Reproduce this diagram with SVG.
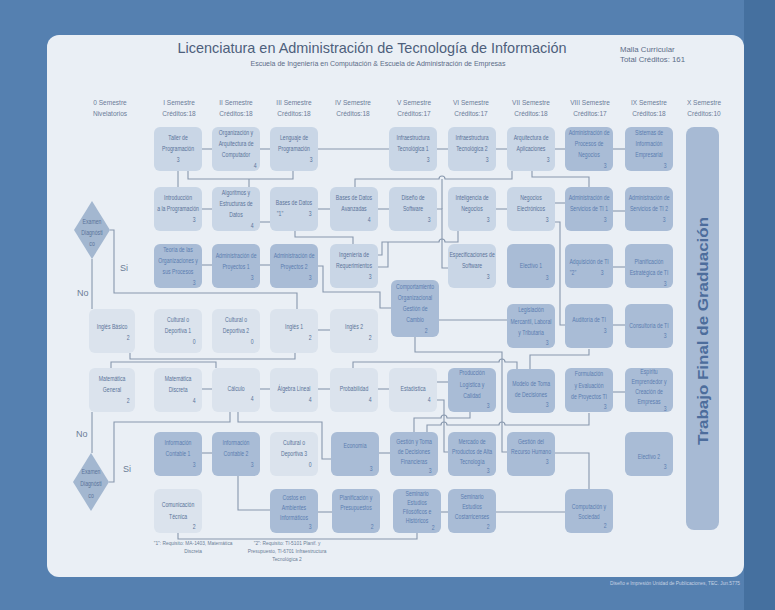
<svg xmlns="http://www.w3.org/2000/svg" width="775" height="610" viewBox="0 0 775 610">
<defs>
<style>
.bg{fill:#5580b0}
.panel{fill:#eaeff5}
rect.cs{fill:#c9d6e6}
rect.gen{fill:#dbe3ed}
rect.adm{fill:#a9bcd6}
.t{font-family:"Liberation Sans",Arial,sans-serif;font-size:6.6px;fill:#5a7399;text-anchor:middle;dominant-baseline:central;transform-box:fill-box;transform-origin:center;transform:scaleX(0.78)}
.a .t{fill:#5b7db0}
.c{text-anchor:end}
.hd{font-family:"Liberation Sans",Arial,sans-serif;font-size:8px;fill:#6a7d99;text-anchor:middle;transform-box:fill-box;transform-origin:center;transform:scaleX(0.82)}
.lbl{font-family:"Liberation Sans",Arial,sans-serif;font-size:9px;fill:#6a7d96}
.fn{font-family:"Liberation Sans",Arial,sans-serif;font-size:6.2px;fill:#6a7d96;text-anchor:middle;transform-box:fill-box;transform-origin:center;transform:scaleX(0.78)}
#connectors path{fill:none;stroke:#8797ad;stroke-width:1.1}
</style>
</defs>
<rect class="bg" x="0" y="0" width="775" height="610"/>
<rect x="744" y="0" width="31" height="610" fill="#45709f"/>
<rect class="panel" x="47" y="35" width="697" height="542" rx="12"/>

<g id="header">
<text x="372" y="53" font-family="Liberation Sans, Arial, sans-serif" font-size="14.5" fill="#4e5f7c" text-anchor="middle" textLength="389" lengthAdjust="spacingAndGlyphs">Licenciatura en Administración de Tecnología de Información</text>
<text x="378" y="66" font-family="Liberation Sans, Arial, sans-serif" font-size="7.5" fill="#5c6d88" text-anchor="middle" textLength="255" lengthAdjust="spacingAndGlyphs">Escuela de Ingeniería en Computación &amp; Escuela de Administración de Empresas</text>
<text x="620" y="52" font-family="Liberation Sans, Arial, sans-serif" font-size="7.8" fill="#5c6d88">Malla Curricular</text>
<text x="620" y="62" font-family="Liberation Sans, Arial, sans-serif" font-size="7.8" fill="#5c6d88">Total Créditos: 161</text>
</g>

<g id="semesters">
<text class="hd" x="110" y="105">0 Semestre</text><text class="hd" x="110" y="116">Nivelatorios</text>
<text class="hd" x="179" y="105">I Semestre</text><text class="hd" x="179" y="116">Créditos:18</text>
<text class="hd" x="236" y="105">II Semestre</text><text class="hd" x="236" y="116">Créditos:18</text>
<text class="hd" x="294" y="105">III Semestre</text><text class="hd" x="294" y="116">Créditos:18</text>
<text class="hd" x="353" y="105">IV Semestre</text><text class="hd" x="353" y="116">Créditos:18</text>
<text class="hd" x="414" y="105">V Semestre</text><text class="hd" x="414" y="116">Créditos:17</text>
<text class="hd" x="471" y="105">VI Semestre</text><text class="hd" x="471" y="116">Créditos:17</text>
<text class="hd" x="531" y="105">VII Semestre</text><text class="hd" x="531" y="116">Créditos:18</text>
<text class="hd" x="590" y="105">VIII Semestre</text><text class="hd" x="590" y="116">Créditos:17</text>
<text class="hd" x="649" y="105">IX Semestre</text><text class="hd" x="649" y="116">Créditos:18</text>
<text class="hd" x="704" y="105">X Semestre</text><text class="hd" x="704" y="116">Créditos:10</text>
</g>

<g id="connectors">
<path d="M202,149 H212"/>
<path d="M260,149 H270"/>
<path d="M318,149 H389"/>
<path d="M437,149 H448"/>
<path d="M496,149 H507"/>
<path d="M555,149 H565"/>
<path d="M613,149 H625"/>
<path d="M178,171 V187"/>
<path d="M188,171 V179 H293 V171"/>
<path d="M249,179 V187"/>
<path d="M202,209 H212"/>
<path d="M260,222 H270"/>
<path d="M318,209 H330"/>
<path d="M378,209 H389"/>
<path d="M295,231 V237 H353 V244"/>
<path d="M355,187 V179 H439 a3,3 0 0 1 6,0 H512 V171"/>
<path d="M437,209 H442 V268 H448"/>
<path d="M442,179 V209"/>
<path d="M377,255 H382 V242 H439 a3,3 0 0 1 6,0 H458 V231"/>
<path d="M377,267 H388 V242"/>
<path d="M496,209 H507"/>
<path d="M532,171 V177 H589 V187"/>
<path d="M555,203 H565"/>
<path d="M613,211 H625"/>
<path d="M555,222 H560 V325 H565"/>
<path d="M202,265 H212"/>
<path d="M260,265 H270"/>
<path d="M318,266 H323 V292 H380 V308 H391"/>
<path d="M613,267 H625"/>
<path d="M439,320 H507"/>
<path d="M613,325 H625"/>
<path d="M110,230 H114 V293 H297 V309"/>
<path d="M92,259 V309"/>
<path d="M130,353 V359 H295 V353"/>
<path d="M318,330 H330"/>
<path d="M111,368 V362 H216 V368"/>
<path d="M202,389 H212"/>
<path d="M260,389 H270"/>
<path d="M318,389 H330"/>
<path d="M378,389 H389"/>
<path d="M437,382 H448"/>
<path d="M437,400 H444 V452 H448"/>
<path d="M353,368 V362 H499 a3,3 0 0 1 6,0 H517 V369"/>
<path d="M415,337 V352 H502 V452 H507"/>
<path d="M589,349 V355 H530 V369"/>
<path d="M613,392 H625"/>
<path d="M470,412 V418 H447 a3,3 0 0 0 -6,0 H414 V432"/>
<path d="M589,413 V425 H505 a3,3 0 0 0 -6,0 H447 a3,3 0 0 0 -6,0 H427 V432"/>
<path d="M109,482 H114 V422 H230 V412"/>
<path d="M92,453 V412"/>
<path d="M238,412 V422 H322 V459 H331"/>
<path d="M202,453 H212"/>
<path d="M238,476 V510 H270"/>
<path d="M379,453 H390"/>
<path d="M555,453 H589 V489"/>
<path d="M318,512 H332"/>
<path d="M441,512 H448"/>
<path d="M496,512 H565"/>
<path d="M178,533 V539 H417 V533"/>
</g>

<g id="diamond1"><polygon points="92,201 110,230 92,259 74,230" fill="#a3b7d0"/>
<text class="t" x="92" y="222">Examen</text><text class="t" x="92" y="233">Diagnósti</text><text class="t" x="92" y="244">co</text></g>
<g id="diamond2"><polygon points="91,453 109,482 91,511 73,482" fill="#a3b7d0"/>
<text class="t" x="91" y="472">Examen</text><text class="t" x="91" y="484">Diagnósti</text><text class="t" x="91" y="496">co</text></g>
<g id="labels">
<text class="lbl" x="120" y="271">Si</text>
<text class="lbl" x="77" y="296">No</text>
<text class="lbl" x="76" y="437">No</text>
<text class="lbl" x="123" y="472">Si</text>
</g>

<g id="taller"><rect class="cs" x="154" y="127" width="48" height="44" rx="6"/><text class="t" x="178" y="138">Taller de</text><text class="t" x="178" y="149">Programación</text><text class="t" x="178" y="160">3</text></g>
<g id="org"><rect class="cs" x="212" y="127" width="48" height="44" rx="6"/><text class="t" x="236" y="133">Organización y</text><text class="t" x="236" y="144">Arquitectura de</text><text class="t" x="236" y="155">Computador</text><text class="t c" x="257" y="166">4</text></g>
<g id="lenguaje"><rect class="cs" x="270" y="127" width="48" height="44" rx="6"/><text class="t" x="294" y="138">Lenguaje de</text><text class="t" x="294" y="149">Programación</text><text class="t c" x="313" y="160">3</text></g>
<g id="infra1"><rect class="cs" x="389" y="127" width="48" height="44" rx="6"/><text class="t" x="413" y="138">Infraestructura</text><text class="t" x="413" y="149">Tecnológica 1</text><text class="t c" x="430" y="160">3</text></g>
<g id="infra2"><rect class="cs" x="448" y="127" width="48" height="44" rx="6"/><text class="t" x="472" y="138">Infraestructura</text><text class="t" x="472" y="149">Tecnológica 2</text><text class="t c" x="489" y="160">3</text></g>
<g id="arq"><rect class="cs" x="507" y="127" width="48" height="44" rx="6"/><text class="t" x="531" y="138">Arquitectura de</text><text class="t" x="531" y="149">Aplicaciones</text><text class="t c" x="550" y="160">3</text></g>
<g id="admproc" class="a"><rect class="adm" x="565" y="127" width="48" height="44" rx="6"/><text class="t" x="589" y="133">Administración de</text><text class="t" x="589" y="144">Procesos de</text><text class="t" x="589" y="155">Negocios</text><text class="t c" x="607" y="166">3</text></g>
<g id="sie" class="a"><rect class="adm" x="625" y="127" width="48" height="44" rx="6"/><text class="t" x="649" y="133">Sistemas de</text><text class="t" x="649" y="144">Información</text><text class="t" x="649" y="155">Empresarial</text><text class="t c" x="667" y="166">3</text></g>

<g id="intro"><rect class="cs" x="154" y="187" width="48" height="44" rx="6"/><text class="t" x="178" y="198">Introducción</text><text class="t" x="178" y="209">a la Programación</text><text class="t c" x="196" y="220">3</text></g>
<g id="algo"><rect class="cs" x="212" y="187" width="48" height="44" rx="6"/><text class="t" x="236" y="193">Algoritmos y</text><text class="t" x="236" y="204">Estructuras de</text><text class="t" x="236" y="215">Datos</text><text class="t c" x="254" y="226">4</text></g>
<g id="bd"><rect class="cs" x="270" y="187" width="48" height="44" rx="6"/><text class="t" x="294" y="203">Bases de Datos</text><text class="t" x="280" y="214">"1"</text><text class="t c" x="312" y="214">3</text></g>
<g id="bda"><rect class="cs" x="330" y="187" width="48" height="44" rx="6"/><text class="t" x="354" y="198">Bases de Datos</text><text class="t" x="354" y="209">Avanzadas</text><text class="t c" x="371" y="220">4</text></g>
<g id="diseno"><rect class="cs" x="389" y="187" width="48" height="44" rx="6"/><text class="t" x="413" y="198">Diseño de</text><text class="t" x="413" y="209">Software</text><text class="t c" x="431" y="220">3</text></g>
<g id="intel"><rect class="cs" x="448" y="187" width="48" height="44" rx="6"/><text class="t" x="472" y="198">Inteligencia de</text><text class="t" x="472" y="209">Negocios</text><text class="t c" x="490" y="220">3</text></g>
<g id="negel"><rect class="cs" x="507" y="187" width="48" height="44" rx="6"/><text class="t" x="531" y="198">Negocios</text><text class="t" x="531" y="209">Electrónicos</text><text class="t c" x="549" y="220">3</text></g>
<g id="ast1" class="a"><rect class="adm" x="565" y="187" width="48" height="44" rx="6"/><text class="t" x="589" y="198">Administración de</text><text class="t" x="589" y="209">Servicios de TI 1</text><text class="t c" x="607" y="220">3</text></g>
<g id="ast2" class="a"><rect class="adm" x="625" y="187" width="48" height="44" rx="6"/><text class="t" x="649" y="198">Administración de</text><text class="t" x="649" y="209">Servicios de TI 2</text><text class="t c" x="666" y="220">3</text></g>

<g id="teoria" class="a"><rect class="adm" x="154" y="244" width="48" height="44" rx="6"/><text class="t" x="178" y="250">Teoría de las</text><text class="t" x="178" y="261">Organizaciones y</text><text class="t" x="178" y="272">sus Procesos</text><text class="t c" x="196" y="283">3</text></g>
<g id="ap1" class="a"><rect class="adm" x="212" y="244" width="48" height="44" rx="6"/><text class="t" x="236" y="256">Administración de</text><text class="t" x="236" y="267">Proyectos 1</text><text class="t c" x="254" y="278">3</text></g>
<g id="ap2" class="a"><rect class="adm" x="270" y="244" width="48" height="44" rx="6"/><text class="t" x="294" y="256">Administración de</text><text class="t" x="294" y="267">Proyectos 2</text><text class="t c" x="312" y="278">3</text></g>
<g id="ingreq"><rect class="cs" x="330" y="244" width="48" height="44" rx="6"/><text class="t" x="354" y="255">Ingeniería de</text><text class="t" x="354" y="266">Requerimientos</text><text class="t c" x="372" y="277">3</text></g>
<g id="espec"><rect class="cs" x="448" y="244" width="48" height="44" rx="6"/><text class="t" x="472" y="255">Especificaciones de</text><text class="t" x="472" y="266">Software</text><text class="t c" x="490" y="277">3</text></g>
<g id="elect1" class="a"><rect class="adm" x="507" y="244" width="48" height="44" rx="6"/><text class="t" x="531" y="266">Electivo 1</text><text class="t c" x="549" y="278">3</text></g>
<g id="adq" class="a"><rect class="adm" x="565" y="244" width="48" height="44" rx="6"/><text class="t" x="589" y="262">Adquisición de TI</text><text class="t" x="573" y="273">"2"</text><text class="t c" x="604" y="273">3</text></g>
<g id="planest" class="a"><rect class="adm" x="625" y="244" width="48" height="44" rx="6"/><text class="t" x="649" y="262">Planificación</text><text class="t" x="649" y="273">Estratégica de TI</text><text class="t c" x="667" y="284">3</text></g>

<g id="comport" class="a"><rect class="adm" x="391" y="280" width="48" height="57" rx="6"/><text class="t" x="415" y="287">Comportamiento</text><text class="t" x="415" y="298">Organizacional</text><text class="t" x="415" y="309">Gestión de</text><text class="t" x="415" y="320">Cambio</text><text class="t c" x="428" y="331">2</text></g>
<g id="legis" class="a"><rect class="adm" x="507" y="304" width="48" height="44" rx="6"/><text class="t" x="531" y="310">Legislación</text><text class="t" x="531" y="321.5">Mercantil, Laboral</text><text class="t" x="531" y="333">y Tributaria</text><text class="t c" x="549" y="343">3</text></g>
<g id="audit" class="a"><rect class="adm" x="565" y="304" width="48" height="44" rx="6"/><text class="t" x="589" y="320">Auditoría de TI</text><text class="t c" x="607" y="331">3</text></g>
<g id="consult" class="a"><rect class="adm" x="625" y="304" width="48" height="44" rx="6"/><text class="t" x="649" y="326">Consultoría de TI</text><text class="t c" x="667" y="336">3</text></g>

<g id="inglesb"><rect class="gen" x="89" y="309" width="46" height="44" rx="6"/><text class="t" x="112" y="327">Inglés Básico</text><text class="t c" x="130" y="338">2</text></g>
<g id="cult1"><rect class="gen" x="154" y="309" width="48" height="44" rx="6"/><text class="t" x="178" y="320">Cultural o</text><text class="t" x="178" y="331">Deportiva 1</text><text class="t c" x="196" y="342">0</text></g>
<g id="cult2"><rect class="gen" x="212" y="309" width="48" height="44" rx="6"/><text class="t" x="236" y="320">Cultural o</text><text class="t" x="236" y="331">Deportiva 2</text><text class="t c" x="254" y="342">0</text></g>
<g id="ingles1"><rect class="gen" x="270" y="309" width="48" height="44" rx="6"/><text class="t" x="294" y="327">Inglés 1</text><text class="t c" x="312" y="338">2</text></g>
<g id="ingles2"><rect class="gen" x="330" y="309" width="48" height="44" rx="6"/><text class="t" x="354" y="327">Inglés 2</text><text class="t c" x="372" y="338">2</text></g>

<g id="matgen"><rect class="gen" x="89" y="368" width="46" height="44" rx="6"/><text class="t" x="112" y="379">Matemática</text><text class="t" x="112" y="390">General</text><text class="t c" x="130" y="401">2</text></g>
<g id="matdis"><rect class="gen" x="154" y="368" width="48" height="44" rx="6"/><text class="t" x="178" y="379">Matemática</text><text class="t" x="178" y="390">Discreta</text><text class="t c" x="196" y="401">4</text></g>
<g id="calculo"><rect class="gen" x="212" y="368" width="48" height="44" rx="6"/><text class="t" x="236" y="389">Cálculo</text><text class="t c" x="254" y="399">4</text></g>
<g id="algebra"><rect class="gen" x="270" y="368" width="48" height="44" rx="6"/><text class="t" x="294" y="389">Álgebra Lineal</text><text class="t c" x="312" y="400">4</text></g>
<g id="prob"><rect class="gen" x="330" y="368" width="48" height="44" rx="6"/><text class="t" x="354" y="389">Probabilidad</text><text class="t c" x="372" y="400">4</text></g>
<g id="estad"><rect class="gen" x="389" y="368" width="48" height="44" rx="6"/><text class="t" x="413" y="389">Estadística</text><text class="t c" x="431" y="400">4</text></g>
<g id="prod" class="a"><rect class="adm" x="448" y="368" width="48" height="44" rx="6"/><text class="t" x="472" y="373">Producción</text><text class="t" x="472" y="385">Logística y</text><text class="t" x="472" y="396">Calidad</text><text class="t c" x="490" y="406">3</text></g>
<g id="modelo" class="a"><rect class="adm" x="507" y="369" width="48" height="44" rx="6"/><text class="t" x="531" y="384">Modelo de Toma</text><text class="t" x="531" y="395">de Decisiones</text><text class="t c" x="549" y="405">3</text></g>
<g id="formul" class="a"><rect class="adm" x="565" y="368" width="48" height="44" rx="6"/><text class="t" x="589" y="374">Formulación</text><text class="t" x="589" y="386">y Evaluación</text><text class="t" x="589" y="397">de Proyectos TI</text><text class="t c" x="607" y="407">3</text></g>
<g id="espiritu" class="a"><rect class="adm" x="625" y="368" width="48" height="44" rx="6"/><text class="t" x="649" y="372">Espíritu</text><text class="t" x="649" y="382">Emprendedor y</text><text class="t" x="649" y="392">Creación de</text><text class="t" x="649" y="402">Empresas</text><text class="t c" x="667" y="409">3</text></g>

<g id="infc1" class="a"><rect class="adm" x="154" y="432" width="48" height="44" rx="6"/><text class="t" x="178" y="443">Información</text><text class="t" x="178" y="454">Contable 1</text><text class="t c" x="196" y="465">3</text></g>
<g id="infc2" class="a"><rect class="adm" x="212" y="432" width="48" height="44" rx="6"/><text class="t" x="236" y="443">Información</text><text class="t" x="236" y="454">Contable 2</text><text class="t c" x="254" y="465">3</text></g>
<g id="cult3"><rect class="gen" x="270" y="432" width="48" height="44" rx="6"/><text class="t" x="294" y="443">Cultural o</text><text class="t" x="294" y="454">Deportiva 3</text><text class="t c" x="312" y="465">0</text></g>
<g id="econ" class="a"><rect class="adm" x="331" y="432" width="48" height="44" rx="6"/><text class="t" x="355" y="446">Economía</text><text class="t c" x="373" y="469">3</text></g>
<g id="gfin" class="a"><rect class="adm" x="390" y="432" width="48" height="44" rx="6"/><text class="t" x="414" y="442">Gestión y Toma</text><text class="t" x="414" y="452">de Decisiones</text><text class="t" x="414" y="462">Financieras</text><text class="t c" x="432" y="471">3</text></g>
<g id="mercado" class="a"><rect class="adm" x="448" y="432" width="48" height="44" rx="6"/><text class="t" x="472" y="442">Mercado de</text><text class="t" x="472" y="452">Productos de Alta</text><text class="t" x="472" y="462">Tecnología</text><text class="t c" x="490" y="471">3</text></g>
<g id="grh" class="a"><rect class="adm" x="507" y="432" width="48" height="44" rx="6"/><text class="t" x="531" y="442">Gestión del</text><text class="t" x="531" y="452">Recurso Humano</text><text class="t c" x="549" y="462">3</text></g>
<g id="elect2" class="a"><rect class="adm" x="625" y="432" width="48" height="44" rx="6"/><text class="t" x="649" y="457">Electivo 2</text><text class="t c" x="667" y="467">3</text></g>

<g id="comtec"><rect class="gen" x="154" y="489" width="48" height="44" rx="6"/><text class="t" x="178" y="505">Comunicación</text><text class="t" x="178" y="517">Técnica</text><text class="t c" x="196" y="527">2</text></g>
<g id="costos" class="a"><rect class="adm" x="270" y="489" width="48" height="44" rx="6"/><text class="t" x="294" y="498">Costos en</text><text class="t" x="294" y="508">Ambientes</text><text class="t" x="294" y="518">Informáticos</text><text class="t c" x="312" y="527">3</text></g>
<g id="planpres" class="a"><rect class="adm" x="332" y="489" width="48" height="44" rx="6"/><text class="t" x="356" y="498">Planificación y</text><text class="t" x="356" y="508">Presupuestos</text><text class="t c" x="374" y="527">2</text></g>
<g id="semfil" class="a"><rect class="adm" x="393" y="489" width="48" height="44" rx="6"/><text class="t" x="417" y="494">Seminario</text><text class="t" x="417" y="503">Estudios</text><text class="t" x="417" y="512">Filosóficos e</text><text class="t" x="417" y="521">Históricos</text><text class="t c" x="435" y="528">2</text></g>
<g id="semcr" class="a"><rect class="adm" x="448" y="489" width="48" height="44" rx="6"/><text class="t" x="472" y="497">Seminario</text><text class="t" x="472" y="507">Estudios</text><text class="t" x="472" y="517">Costarricenses</text><text class="t c" x="490" y="527">2</text></g>
<g id="compsoc" class="a"><rect class="adm" x="565" y="489" width="48" height="44" rx="6"/><text class="t" x="589" y="507">Computación y</text><text class="t" x="589" y="517">Sociedad</text><text class="t c" x="607" y="526">2</text></g>

<g id="tfg"><rect x="686" y="127" width="33" height="403" rx="8" fill="#a7bad4"/>
<text x="0" y="0" transform="translate(708,331) rotate(-90)" font-family="Liberation Sans, Arial, sans-serif" font-size="15" font-weight="bold" fill="#4d6d9c" text-anchor="middle" textLength="228" lengthAdjust="spacingAndGlyphs">Trabajo Final de Graduación</text></g>

<g id="footnotes">
<text class="fn" x="193" y="545">"1": Requisito: MA-1403, Matemática</text>
<text class="fn" x="193" y="553">Discreta</text>
<text class="fn" x="287" y="545">"2": Requisito:  TI-5101 Planif. y</text>
<text class="fn" x="287" y="553">Presupuesto, TI-6701 Infraestructura</text>
<text class="fn" x="287" y="561">Tecnológica 2</text>
</g>
<text x="740" y="585" font-family="Liberation Sans, Arial, sans-serif" font-size="4.8" fill="#c5d2e3" text-anchor="end">Diseño e Impresión Unidad de Publicaciones, TEC.  Jun.5775</text>
</svg>
